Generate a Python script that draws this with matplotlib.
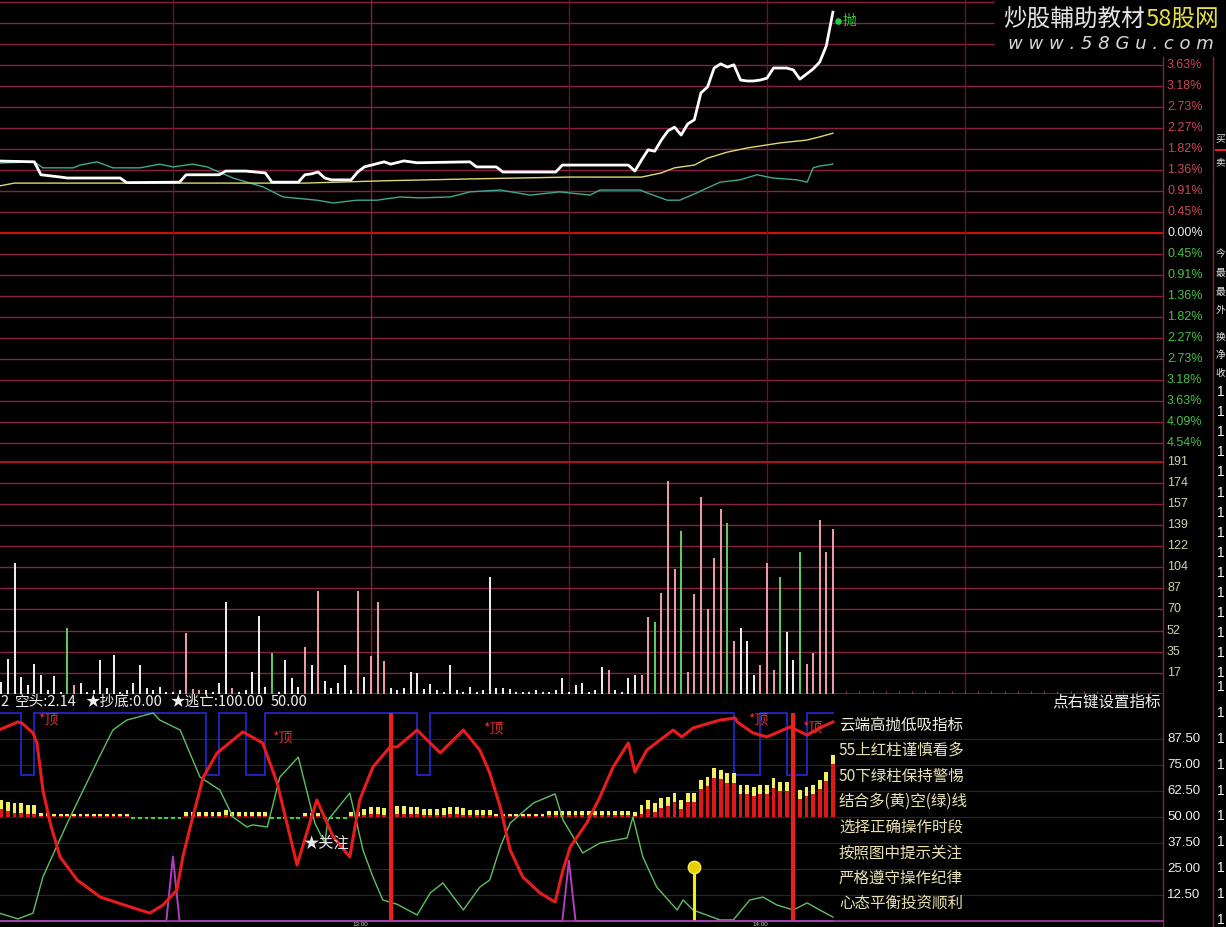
import matplotlib
matplotlib.use('Agg')
import matplotlib.pyplot as plt
from matplotlib.transforms import blended_transform_factory as btf
from matplotlib.patches import Rectangle

plt.rcParams['font.family'] = ['Noto Sans CJK SC', 'DejaVu Sans']

# ---------------- data ----------------
# price panel (percent change vs previous close), x = minute index of trading day
white_m = [63, 69, 70, 73, 74, 82, 83, 91, 92, 97, 98, 101, 104, 105, 109, 110, 111, 112, 113, 114,
           117, 118, 119, 122, 123, 125, 127, 135, 136, 139, 140, 148, 149, 159, 160, 161, 162, 163,
           164, 165, 166, 167, 168, 169, 170, 171, 172, 173, 174, 175, 176, 177, 178, 179, 180, 181,
           182, 183, 184, 185, 186, 187, 188, 189, 190]
white_p = [1.56, 1.54, 1.26, 1.21, 1.19, 1.19, 1.09, 1.10, 1.26, 1.26, 1.34, 1.34, 1.30, 1.10, 1.10,
           1.26, 1.28, 1.32, 1.19, 1.15, 1.15, 1.32, 1.43, 1.54, 1.49, 1.56, 1.52, 1.54, 1.43, 1.43,
           1.32, 1.32, 1.47, 1.47, 1.34, 1.58, 1.80, 1.77, 2.01, 2.21, 2.29, 2.12, 2.36, 2.45, 3.03,
           3.16, 3.57, 3.66, 3.59, 3.64, 3.31, 3.29, 3.29, 3.31, 3.35, 3.57, 3.57, 3.57, 3.53, 3.33,
           3.44, 3.55, 3.70, 4.05, 4.78]

avg_m = [63, 66, 110, 122, 135, 150, 161, 164, 166, 169, 171, 174, 177, 182, 186, 188, 190]
avg_p = [1.00, 1.08, 1.08, 1.13, 1.17, 1.21, 1.21, 1.30, 1.41, 1.47, 1.62, 1.75, 1.84, 1.95, 2.01, 2.08, 2.16]

teal_m = [63, 69, 70.3, 74.9, 75.9, 78.5, 80.9, 85, 88, 90, 93, 95.2, 99.1, 103.6, 106.7, 111.8, 114.3,
          117.9, 120.9, 124.4, 127.4, 132, 135, 139.6, 144.1, 148.6, 153.2, 154.7, 160.8, 161.8,
          164.9, 166.8, 169.4, 170.9, 172.9, 175.9, 178.5, 180.9, 184.6, 186.1, 187, 188, 190]
teal_p = [1.51, 1.54, 1.41, 1.41, 1.47, 1.54, 1.41, 1.41, 1.49, 1.43, 1.49, 1.43, 1.19, 1.00, 0.78,
          0.71, 0.65, 0.71, 0.71, 0.78, 0.76, 0.78, 0.89, 0.93, 0.82, 0.89, 0.82, 0.93, 0.93, 0.87,
          0.71, 0.71, 0.87, 0.97, 1.10, 1.15, 1.26, 1.19, 1.15, 1.10, 1.41, 1.45, 1.49]

pct_up_labels = ["0.45%", "0.91%", "1.36%", "1.82%", "2.27%", "2.73%", "3.18%", "3.63%"]
pct_dn_labels = ["0.45%", "0.91%", "1.36%", "1.82%", "2.27%", "2.73%", "3.18%", "3.63%", "4.09%", "4.54%"]
pct_step = 0.4545

# volume panel (one bar per minute, 64..190)
vol_start = 64
vol = [10, 29, 108, 14, 7, 25, 16, 3, 15, 2, 54, 7, 9, 2, 3, 28, 5, 32, 2, 3,
       9, 24, 5, 3, 6, 2, 2, 3, 50, 4, 3, 3, 2, 9, 76, 5, 2, 3, 18, 64,
       6, 34, 2, 28, 13, 6, 39, 24, 85, 11, 5, 9, 24, 3, 85, 14, 31, 76, 27, 5,
       3, 5, 18, 17, 4, 8, 3, 2, 24, 3, 2, 6, 2, 3, 96, 5, 5, 4, 2, 2,
       2, 3, 2, 2, 3, 13, 2, 7, 9, 2, 3, 22, 20, 3, 2, 13, 16, 16, 63, 59,
       83, 175, 103, 134, 18, 82, 162, 70, 112, 152, 141, 44, 54, 44, 16, 24, 108, 20, 96, 51,
       28, 117, 25, 34, 143, 117, 136]
vol_dir = ("wwwwwwwwwwgrwwwwwwww"
           "wwwwwwwwrrrwwwwrwwww"
           "wgwwwwrwrwwwwwrwrrrw"
           "wwwwwwwwwwwwwwwwwwww"
           "wwwwwwwwwwwwrwwwwrrg"
           "rrrgrrrrrrgrwwwrrrgw"
           "wgrrrrr")
vol_labels = [17, 35, 52, 70, 87, 104, 122, 139, 157, 174, 191]
vol_step = 17.4

# indicator panel
k_start = 64
k_val = ([58.2, 57.4, 56.6, 56.6, 55.8, 55.8]
         + [52, 51.8] + [51.5] * 12
         + [48.8] * 8
         + [52.5] * 6 + [53.5] + [52.5] * 6
         + [48.8] * 5
         + [52, 52, 52]
         + [48.8] * 4
         + [52.5, 52.5, 54, 55, 55, 54.5, 55, 55.5, 55.5, 55, 55]
         + [54, 54, 54, 54.5, 55, 55, 54.5, 53.5, 53.5, 53.5, 53.5]
         + [51.3] * 8
         + [53] * 13
         + [52.5, 55.8, 58.2, 56.7, 59, 59.8, 61.5, 58.2, 61.5, 61.5, 67.8, 69.4, 73.4, 72.6, 71, 71,
            65.4, 65.4, 64.6, 65.4, 65.4, 68.6, 67, 67, 66.2, 63, 64.6, 65.4, 67.8, 71.8, 79.8])

red_m = [63, 66.5, 67.1, 68.8, 69.4, 70.3, 71.4, 72.9, 75.5, 79, 84, 86.5, 88.5, 90.6, 91.5, 93, 94.6,
         96.7, 100.6, 103.6, 105.8, 108.8, 111.8, 114.3, 116.8, 118.3, 120.3, 122.9, 124, 127,
         130.5, 134, 136.5, 138, 139.6, 141.1, 143, 145.6, 147.9, 149.1, 150.2, 152.7, 154.7,
         156.7, 159, 160, 161.8, 165.8, 167.1, 168.8, 172.9, 175.2, 175.5, 177.9, 180, 183.5,
         186.1, 188, 190]
red_v = [91.0, 95.7, 95.2, 90.4, 85.6, 63.0, 47.1, 30.8, 19.7, 11.5, 6.3, 3.8, 7.7, 14.9, 30.8, 50.0,
         69.2, 80.8, 90.9, 85.6, 66.3, 26.9, 58.2, 40.4, 30.8, 58.2, 74.0, 83.7, 83.7, 91.8,
         80.8, 91.8, 82.2, 71.2, 54.8, 34.1, 21.2, 13.5, 9.1, 24.5, 35.6, 47.1, 59.6,
         74.0, 85.6, 71.6, 82.2, 91.8, 88.5, 92.8, 96.6, 97.6, 95.7, 90.4, 88.5, 93.3,
         89.4, 92.8, 95.7]

green_m = [63, 66.5, 68.8, 70.3, 74, 75.9, 77.9, 79, 80.9, 83, 87, 88, 91.1, 94.1, 97.1, 99.1, 101.2,
           102.1, 104.3, 106.2, 109, 111.5, 113, 113.5, 116.8, 118.8, 120.3, 121.8, 124, 127,
           129, 130.9, 134, 136.5, 138, 139.6, 141.1, 144.6, 147.9, 149.1, 152.1, 154.7, 158.8,
           159.7, 161.2, 163.3, 166.4, 167.3, 168.8, 172.9, 174.9, 177.4, 179.4, 181.5, 184,
           186.1, 188, 190]
green_v = [4.5, 1.0, 3.8, 21.2, 47.1, 59.6, 72.6, 79.8, 91.8, 96.6, 100, 96.6, 91.8, 69.2, 63.0, 50.0,
           45.2, 46.2, 45.2, 69.2, 78.8, 47.1, 37.5, 48.6, 61.5, 34.1, 21.2, 10.1, 8.0, 2.9,
           13.5, 18.3, 5.3, 16.3, 19.7, 35.6, 47.1, 56.7, 61.1, 48.6, 32.7, 37.5, 39.9,
           50.0, 30.8, 16.3, 5.3, 10.1, 5.3, 0.5, 0.5, 10.1, 11.5, 7.7, 5.3,
           8.7, 5.3, 1.9]

blue_m = [63, 67, 69, 95, 97, 101, 104, 127, 129, 175, 179, 183, 186, 190]
blue_v = [100, 70, 100, 70, 100, 70, 100, 70, 100, 70, 100, 70, 100, 100]

mag_m = [63, 89, 90, 91, 149, 150, 151, 190]
mag_v = [0, 0, 31, 0, 0, 29, 0, 0]

top_signal_m = [69.6, 105.0, 137.0, 177.1, 185.3]
top_signal_v = [97, 88, 92.5, 97, 93]
stick_m = [123, 184]
ball_m, ball_v = 169, 26
focus_m, focus_v = 110.9, 37.5
sell_m, sell_p = 190.8, 4.59

ind_labels = [12.5, 25.0, 37.5, 50.0, 62.5, 75.0, 87.5]
time_grid = [90, 120, 150, 180, 210]
time_labels = [("13:00", 360), ("14:00", 760)]

header_parts = [("2", 0), ("空头:2.14", 15), ("★抄底:0.00", 85), ("★逃亡:100.00", 170), ("50.00", 271)]
notes = ["云端高抛低吸指标", "55上红柱谨慎看多", "50下绿柱保持警惕", "结合多(黄)空(绿)线",
         "选择正确操作时段", "按照图中提示关注", "严格遵守操作纪律", "心态平衡投资顺利"]

# ---------------- layout ----------------
W, H = 1226, 927
fig = plt.figure(figsize=(W / 100, H / 100), dpi=100, facecolor='black')


def box(x0, y0, x1, y1):
    return [x0 / W, 1 - y1 / H, (x1 - x0) / W, (y1 - y0) / H]


X0 = 63.8
X1 = X0 + 1163 / 6.6
ax_p = fig.add_axes(box(0, 0, 1163, 453))
ax_v = fig.add_axes(box(0, 453, 1163, 694))
ax_i = fig.add_axes(box(0, 694, 1163, 922))
for ax in (ax_p, ax_v, ax_i):
    ax.set_xlim(X0, X1)
    ax.set_facecolor('black')
    ax.set_axis_off()

PX = 0.02164
ax_p.set_ylim(-(453 - 233) * PX, 233 * PX)
ax_v.set_ylim(0, 241 * (vol_step / 21.13))
ax_i.set_ylim(-1 / 2.08, 227 / 2.08)

GRID = '#8A2040'
VGRID = '#5A1830'
NUMF = 'Liberation Sans'
lab_x = 1167 / 1163

# --- price panel grid
for k in range(-10, 12):
    lvl = k * pct_step
    if k == 0:
        ax_p.axhline(lvl, color='#C81010', lw=1.6, zorder=1)
    else:
        ax_p.axhline(lvl, color=GRID, lw=1.0, zorder=1)
for t in time_grid:
    c = GRID if t == 120 else VGRID
    ax_p.axvline(t, color=c, lw=1.0, zorder=1)
    ax_v.axvline(t, color=c, lw=1.0, zorder=1)

tp = btf(ax_p.transAxes, ax_p.transData)
for i, s in enumerate(pct_up_labels):
    ax_p.text(lab_x, (i + 1) * pct_step, s, transform=tp, color='#C84858', fontsize=9,
              family=NUMF, va='center', ha='left', clip_on=False)
ax_p.text(lab_x, 0, "0.00%", transform=tp, color='#F0F0F0', fontsize=9, family=NUMF,
          va='center', ha='left', clip_on=False)
for i, s in enumerate(pct_dn_labels):
    ax_p.text(lab_x, -(i + 1) * pct_step, s, transform=tp, color='#48C048', fontsize=9,
              family=NUMF, va='center', ha='left', clip_on=False)

ax_p.plot(teal_m, teal_p, color='#40A890', lw=1.0, zorder=3)
ax_p.plot(avg_m, avg_p, color='#E0D870', lw=1.0, zorder=3)
ax_p.plot(white_m, white_p, color='#FFFFFF', lw=2.0, zorder=4)
ax_p.scatter([sell_m], [sell_p], s=14, color='#20D040', zorder=5)
ax_p.text(sell_m + 0.6, sell_p, "抛", color='#30D030', fontsize=10, va='center', ha='left', zorder=5)

# --- volume panel
for k in range(1, 12):
    lvl = k * vol_step
    ax_v.axhline(lvl, color='#C01020' if k == 11 else GRID, lw=1.3 if k == 11 else 1.0, zorder=1)
tv = btf(ax_v.transAxes, ax_v.transData)
for i, s in enumerate(vol_labels):
    ax_v.text(lab_x, (i + 1) * vol_step, str(s), transform=tv, color='#D0D0B0', fontsize=9,
              family=NUMF, va='center', ha='left', clip_on=False)
cmap = {'w': '#F2F2F2', 'g': '#60D060', 'r': '#F0A0A8'}
vm = [vol_start + i for i in range(len(vol))]
ax_v.vlines(vm, 0, vol, colors=[cmap[c] for c in vol_dir], lw=1.4, zorder=3)
ax_v.axhline(0, color=GRID, lw=1.2, zorder=2)
ticks_m = list(range(64, 241, 2))
ax_v.vlines(ticks_m, 0, 2.2, colors='#A03050', lw=0.8, zorder=2)

# --- indicator panel
for v in ind_labels:
    ax_i.axhline(v, color='#2E2228', lw=0.9, zorder=1)
ti = btf(ax_i.transAxes, ax_i.transData)
for v in ind_labels:
    ax_i.text(lab_x, v, f"{v:.2f}", transform=ti, color='#F0F0F0', fontsize=9.5, family=NUMF,
              va='center', ha='left', clip_on=False)

km = [k_start + i for i in range(len(k_val))]
for m, k in zip(km, k_val):
    if k >= 50:
        ax_i.bar(m, k - 50, bottom=50, width=0.6, color='#E01818', zorder=3)
        cap = min(4.5, (k - 50) * 0.75)
        ax_i.bar(m, cap, bottom=k - cap, width=0.6, color='#F0F060', zorder=3)
    else:
        ax_i.bar(m, 50 - k, bottom=k, width=0.6, color='#40D040', zorder=3)

ax_i.step(blue_m, blue_v, where='post', color='#2222B8', lw=1.4, zorder=2)
ax_i.plot(mag_m, mag_v, color='#B040C0', lw=1.4, zorder=2)
ax_i.plot(green_m, green_v, color='#60C060', lw=1.0, zorder=4)
ax_i.plot(red_m, red_v, color='#E81C1C', lw=2.2, zorder=5)
for m in stick_m:
    ax_i.vlines(m, 0, 100, color='#E82020', lw=3.0, zorder=6)
ax_i.vlines(ball_m, 0, ball_v, color='#F0F000', lw=2.2, zorder=6)
ax_i.scatter([ball_m], [ball_v], s=80, color='#E8D000', edgecolors='#F8E860', zorder=7)
for m, v in zip(top_signal_m, top_signal_v):
    ax_i.text(m, v, "*顶", color='#E03030', fontsize=10, va='center', ha='left', zorder=7)
ax_i.text(focus_m - 1.2, focus_v, "★关注", color='#E8E8E8', fontsize=11, va='center', ha='left', zorder=7)

# --- overlay (frame, header texts, watermark, right column)
ov = fig.add_axes([0, 0, 1, 1])
ov.set_xlim(0, W)
ov.set_ylim(H, 0)
ov.set_axis_off()
ov.patch.set_alpha(0)

ov.add_patch(Rectangle((995, 0), W - 995, 57, color='black', zorder=1))
ov.plot([1163, 1163], [57, H], color=GRID, lw=1.0, zorder=2)
ov.plot([1213, 1213], [57, H], color=GRID, lw=1.0, zorder=2)
ov.plot([0, 1163], [921, 921], color='#A040A8', lw=1.2, zorder=2)

for s, x in header_parts:
    ov.text(x, 702, s, color='#F0F0F0', fontsize=10.5, va='center', ha='left', zorder=3)
ov.text(1052, 702, "点右键设置指标", color='#F0F0F0', fontsize=11.2, va='center', ha='left', zorder=3)

for i, s in enumerate(notes):
    ov.text(839, 725 + i * 25.5, s, color='#F2EEE0' if i == 0 else '#E8E2B0', fontsize=11.2,
            va='center', ha='left', zorder=3)

for s, x in time_labels:
    ov.text(x, 926.8, s, color='#D0D0D0', fontsize=4.5, family=NUMF, va='bottom', ha='center', zorder=3)

ov.text(1003, 19, "炒股輔助教材", color='#E4E4E4', fontsize=17, va='center', ha='left', zorder=3)
ov.text(1145, 19, "58股网", color='#E8E040', fontsize=17, va='center', ha='left', zorder=3)
ov.text(1008, 44, "w w w . 5 8 G u . c o m", color='#D8D8D8', fontsize=13, style='italic',
        family='DejaVu Sans', va='center', ha='left', zorder=3)

side_chars = [("买", 138), ("卖", 162), ("今", 255), ("最", 273), ("最", 292), ("外", 310),
              ("换", 337), ("净", 355), ("收", 373)]
for s, y in side_chars:
    ov.text(1215.5, y, s, color='#E0E0E0', fontsize=7, va='center', ha='left', zorder=3)
ov.plot([1216, 1226], [150, 150], color='#E02020', lw=1.5, zorder=3)
ones_y = [392 + 20.1 * i for i in range(15)] + [687 + 25.9 * i for i in range(10)]
for y in ones_y:
    ov.text(1217, y, "1", color='#F0F0F0', fontsize=10, family=NUMF, va='center', ha='left', zorder=3)

fig.savefig('out.png', dpi=100, facecolor='black')
